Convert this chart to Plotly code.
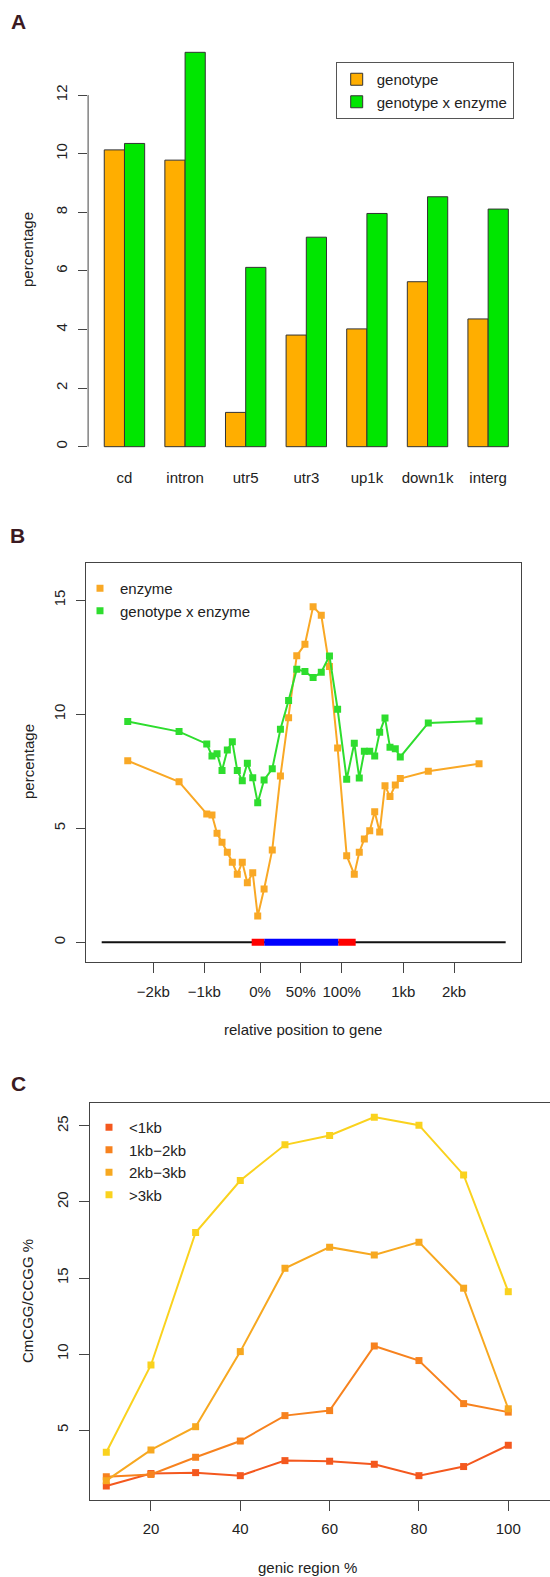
import plotly.graph_objects as go

W, H = 550, 1577
FONT = "Liberation Sans, Arial, Helvetica, sans-serif"
TXT = "#222222"
AX = "#444444"

# ---------------- Panel A data ----------------
regions = ["cd", "intron", "utr5", "utr3", "up1k", "down1k", "interg"]
genotype = [10.13, 9.78, 1.17, 3.81, 4.02, 5.63, 4.36]
genotype_x_enzyme = [10.35, 13.46, 6.12, 7.15, 7.96, 8.53, 8.11]
a_yticks = [0, 2, 4, 6, 8, 10, 12]

# ---------------- Panel B data ----------------
b_pos = [-161.9, -99.1, -65.2, -58.8, -52.6, -46.5, -40.0, -33.9, -27.8, -21.7,
         -15.5, -8.9, -2.8, 5, 15, 25, 35, 45, 55, 65,
         75, 85, 95, 106.1, 115.4, 121.5, 127.7, 134.3, 140.4, 146.5,
         153.0, 159.1, 165.6, 171.7, 206.0, 268.1]
b_enzyme = [7.96, 7.04, 5.63, 5.58, 4.78, 4.39, 3.95, 3.51, 2.98, 3.51,
            2.61, 3.05, 1.15, 2.34, 4.05, 7.29, 9.85, 12.57, 13.07, 14.72,
            14.34, 12.09, 8.52, 3.80, 2.98, 3.95, 4.53, 4.89, 5.73, 4.84,
            6.87, 6.39, 6.90, 7.18, 7.50, 7.83]
b_gxe = [9.68, 9.24, 8.70, 8.17, 8.27, 7.53, 8.43, 8.80, 7.53, 7.09,
         7.85, 7.22, 6.12, 7.12, 7.61, 9.34, 10.60, 11.97, 11.87, 11.61,
         11.84, 12.56, 10.22, 7.15, 8.73, 7.21, 8.38, 8.38, 8.17, 9.21,
         9.84, 8.55, 8.49, 8.13, 9.62, 9.71]
b_tickvals = [-130.6, -68.2, 0, 50, 100, 175.4, 237.5]
b_ticktext = ["\u22122kb", "\u22121kb", "0%", "50%", "100%", "1kb", "2kb"]
b_yticks = [0, 5, 10, 15]
# gene model track (start, end) in the same relative units
track_flank = (-193.8, 300.7)
track_utr5 = (-10.2, 5.3)
track_cds = (5.3, 95.9)
track_utr3 = (95.9, 117.1)

# ---------------- Panel C data ----------------
c_x = [10, 20, 30, 40, 50, 60, 70, 80, 90, 100]
c_lt1kb = [1.32, 2.14, 2.20, 2.00, 2.99, 2.95, 2.75, 2.00, 2.60, 4.00]
c_1to2kb = [1.93, 2.08, 3.21, 4.28, 5.95, 6.28, 10.53, 9.57, 6.74, 6.18]
c_2to3kb = [1.67, 3.69, 5.22, 10.16, 15.64, 17.03, 16.52, 17.36, 14.33, 6.40]
c_gt3kb = [3.54, 9.28, 17.99, 21.41, 23.76, 24.37, 25.58, 25.05, 21.78, 14.10]
c_names = ["<1kb", "1kb\u22122kb", "2kb\u22123kb", ">3kb"]
c_series = [c_lt1kb, c_1to2kb, c_2to3kb, c_gt3kb]
c_colors = ["#F4581E", "#F7821E", "#F7A820", "#FAD21E"]
c_yticks = [5, 10, 15, 20, 25]
c_xticks = [20, 40, 60, 80, 100]

A_ORANGE = "#FFAE00"
A_GREEN = "#00E600"
B_ORANGE = "#F9A825"
B_GREEN = "#2EDD2E"


def px_x(p):
    return p / W


def px_y(p):
    return 1 - p / H


fig = go.Figure()

# Panel A bars
fig.add_trace(go.Bar(x=regions, y=genotype, name="genotype",
                     marker=dict(color=A_ORANGE, line=dict(color="#333333", width=1)),
                     xaxis="x", yaxis="y", legend="legend"))
fig.add_trace(go.Bar(x=regions, y=genotype_x_enzyme, name="genotype x enzyme",
                     marker=dict(color=A_GREEN, line=dict(color="#333333", width=1)),
                     xaxis="x", yaxis="y", legend="legend"))

# Panel B lines
fig.add_trace(go.Scatter(x=b_pos, y=b_enzyme, mode="lines+markers", showlegend=False,
                         line=dict(color=B_ORANGE, width=2),
                         marker=dict(symbol="square", size=7, color=B_ORANGE),
                         xaxis="x2", yaxis="y2"))
fig.add_trace(go.Scatter(x=b_pos, y=b_gxe, mode="lines+markers", showlegend=False,
                         line=dict(color=B_GREEN, width=2),
                         marker=dict(symbol="square", size=7, color=B_GREEN),
                         xaxis="x2", yaxis="y2"))
for nm, col in [("enzyme", B_ORANGE), ("genotype x enzyme", B_GREEN)]:
    fig.add_trace(go.Scatter(x=[None], y=[None], mode="markers", name=nm,
                             marker=dict(symbol="square", size=7, color=col),
                             xaxis="x2", yaxis="y2", legend="legend2"))

# Panel C lines
for nm, ys, col in zip(c_names, c_series, c_colors):
    fig.add_trace(go.Scatter(x=c_x, y=ys, mode="lines+markers", showlegend=False,
                             line=dict(color=col, width=2),
                             marker=dict(symbol="square", size=7, color=col),
                             xaxis="x3", yaxis="y3"))
for nm, col in zip(c_names, c_colors):
    fig.add_trace(go.Scatter(x=[None], y=[None], mode="markers", name=nm,
                             marker=dict(symbol="square", size=7, color=col),
                             xaxis="x3", yaxis="y3", legend="legend3"))

tickfont = dict(family=FONT, size=15, color=TXT)

shapes = [
    # Panel A axis line spanning 0..12 only (as in R)
    dict(type="line", xref="x domain", yref="y", x0=0, x1=0, y0=0, y1=12,
         line=dict(color=AX, width=1)),
    # Panel B gene model track
    dict(type="line", xref="x2", yref="y2", x0=track_flank[0], x1=track_flank[1], y0=0, y1=0,
         line=dict(color="#111111", width=2)),
    dict(type="line", xref="x2", yref="y2", x0=track_utr5[0], x1=track_utr5[1], y0=0, y1=0,
         line=dict(color="#FF0000", width=7)),
    dict(type="line", xref="x2", yref="y2", x0=track_cds[0], x1=track_cds[1], y0=0, y1=0,
         line=dict(color="#0000FF", width=7)),
    dict(type="line", xref="x2", yref="y2", x0=track_utr3[0], x1=track_utr3[1], y0=0, y1=0,
         line=dict(color="#FF0000", width=7)),
]

annotations = []
for letter, (lx, ly) in zip("ABC", [(18, 21), (17, 535), (18, 1083)]):
    annotations.append(dict(text="<b>%s</b>" % letter, x=px_x(lx), y=px_y(ly), xref="paper", yref="paper",
                            showarrow=False, xanchor="center", yanchor="middle",
                            font=dict(family=FONT, size=21, color="#3A1A22")))
for txt, (tx, ty), ang in [("percentage", (28, 250), -90),
                           ("percentage", (28, 762), -90),
                           ("relative position to gene", (303, 1029), 0),
                           ("CmCGG/CCGG %", (27, 1301), -90),
                           ("genic region %", (307, 1567), 0)]:
    annotations.append(dict(text=txt, x=px_x(tx), y=px_y(ty), xref="paper", yref="paper",
                            showarrow=False, xanchor="center", yanchor="middle", textangle=ang,
                            font=dict(family=FONT, size=15, color=TXT)))

fig.update_layout(
    width=W, height=H, margin=dict(l=0, r=0, t=0, b=0),
    paper_bgcolor="white", plot_bgcolor="white",
    font=dict(family=FONT, size=15, color=TXT),
    barmode="group", bargap=1/3, bargroupgap=0,
    shapes=shapes, annotations=annotations,
    # Panel A axes
    xaxis=dict(domain=[px_x(88.1), px_x(524.5)], range=[-0.6, 6.6], anchor="y",
               showline=False, showgrid=False, zeroline=False, ticks="",
               tickfont=tickfont, ticklabelstandoff=4),
    yaxis=dict(domain=[px_y(462.5), px_y(36.5)], range=[-0.54, 14.0], anchor="x",
               tickvals=a_yticks, showline=False, showgrid=False, zeroline=False,
               ticks="outside", ticklen=9, tickcolor=AX, tickangle=-90,
               tickfont=tickfont, ticklabelstandoff=5),
    # Panel B axes
    xaxis2=dict(domain=[px_x(86), px_x(520.7)], range=[-213, 319.1], anchor="y2",
                tickvals=b_tickvals, ticktext=b_ticktext,
                showline=True, mirror=True, linecolor=AX, linewidth=1,
                showgrid=False, zeroline=False, ticks="outside", ticklen=10, tickcolor=AX,
                tickfont=tickfont, ticklabelstandoff=6),
    yaxis2=dict(domain=[px_y(961.7), px_y(563.3)], range=[-0.85, 16.62], anchor="x2",
                tickvals=b_yticks, showline=True, mirror=True, linecolor=AX, linewidth=1,
                showgrid=False, zeroline=False, ticks="outside", ticklen=9, tickcolor=AX,
                tickangle=-90, tickfont=tickfont, ticklabelstandoff=5),
    # Panel C axes
    xaxis3=dict(domain=[px_x(90), 1.0], range=[6.35, 109.34], anchor="y3",
                tickvals=c_xticks, showline=True, mirror=True, linecolor=AX, linewidth=1,
                showgrid=False, zeroline=False, ticks="outside", ticklen=10, tickcolor=AX,
                tickfont=tickfont, ticklabelstandoff=5),
    yaxis3=dict(domain=[px_y(1500), px_y(1102.7)], range=[0.4, 26.53], anchor="x3",
                tickvals=c_yticks, showline=True, mirror=False, linecolor=AX, linewidth=1,
                showgrid=False, zeroline=False, ticks="outside", ticklen=10, tickcolor=AX,
                tickangle=-90, tickfont=tickfont, ticklabelstandoff=5),
    legend=dict(x=px_x(335.7), y=px_y(62), xanchor="left", yanchor="top",
                bordercolor="#555555", borderwidth=1, bgcolor="white",
                font=dict(family=FONT, size=15, color=TXT), tracegroupgap=0,
                itemclick=False),
    legend2=dict(x=px_x(80), y=px_y(572), xanchor="left", yanchor="top",
                 borderwidth=0, bgcolor="rgba(0,0,0,0)",
                 font=dict(family=FONT, size=15, color=TXT)),
    legend3=dict(x=px_x(89), y=px_y(1111), xanchor="left", yanchor="top",
                 borderwidth=0, bgcolor="rgba(0,0,0,0)",
                 font=dict(family=FONT, size=15, color=TXT)),
)

fig.write_html("out.html")
